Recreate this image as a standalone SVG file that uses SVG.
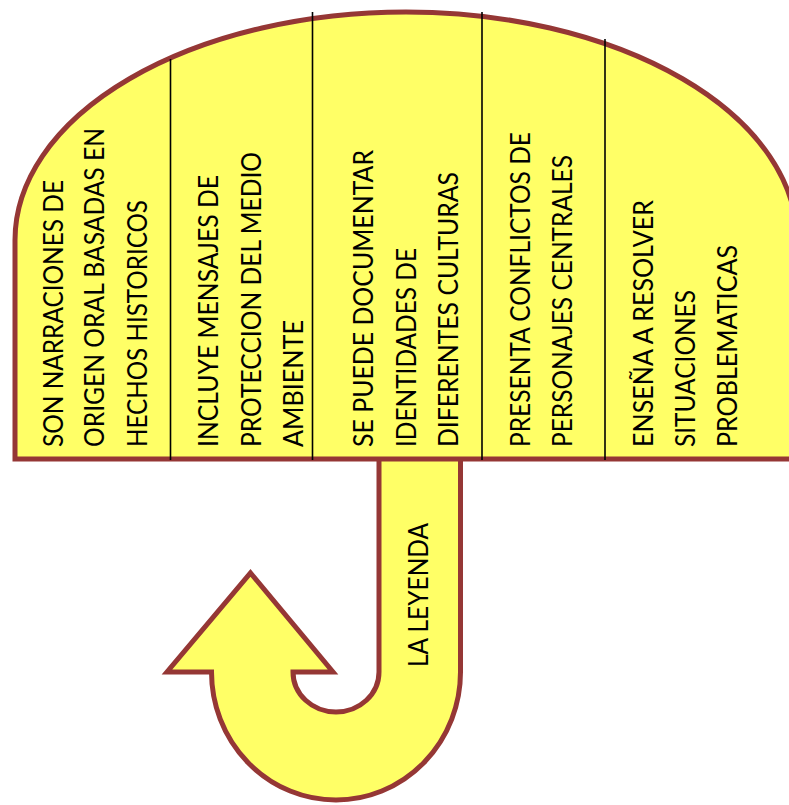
<svg xmlns="http://www.w3.org/2000/svg" width="789" height="805" viewBox="0 0 789 805">
<style>
.shape{fill:#FFFF66;stroke:#953735;stroke-width:5;stroke-linejoin:miter}
.div{stroke:#000;stroke-width:1.6;fill:none}
.t{font-family:Lato,"Liberation Sans",sans-serif;font-size:26px;fill:#000}
</style>
<rect width="789" height="805" fill="#fff"/>
<g id="handle">
<path class="shape" d="M379,461 L379,672 A43,40 0 0 1 293,672 L333,672 L250.5,573 L167,672 L211.5,672 A124.5,128 0 0 0 460.5,672 L460.5,461"/>
<text class="t" transform="translate(428,667) rotate(-90)" textLength="144" lengthAdjust="spacingAndGlyphs">LA LEYENDA</text>
</g>
<g id="canopy">
<path class="shape" d="M15,459 L15,240 A391,228 0 0 1 797,240 L797,459 Z"/>
</g>
<g id="connectors">
<line class="div" x1="170.5" y1="59" x2="170.5" y2="460"/>
<line class="div" x1="312.5" y1="12" x2="312.5" y2="460"/>
<line class="div" x1="482" y1="12" x2="482" y2="460"/>
<line class="div" x1="605" y1="39" x2="605" y2="460"/>
</g>
<g id="col1">
<text class="t" transform="translate(63,447) rotate(-90)" textLength="267" lengthAdjust="spacingAndGlyphs">SON NARRACIONES DE</text>
<text class="t" transform="translate(104,447) rotate(-90)" textLength="319" lengthAdjust="spacingAndGlyphs">ORIGEN ORAL BASADAS EN</text>
<text class="t" transform="translate(147,447) rotate(-90)" textLength="247" lengthAdjust="spacingAndGlyphs">HECHOS HISTORICOS</text>
</g>
<g id="col2">
<text class="t" transform="translate(218,447) rotate(-90)" textLength="272" lengthAdjust="spacingAndGlyphs">INCLUYE MENSAJES DE</text>
<text class="t" transform="translate(261,447) rotate(-90)" textLength="295" lengthAdjust="spacingAndGlyphs">PROTECCION DEL MEDIO</text>
<text class="t" transform="translate(303,447) rotate(-90)" textLength="127" lengthAdjust="spacingAndGlyphs">AMBIENTE</text>
</g>
<g id="col3">
<text class="t" transform="translate(373,447) rotate(-90)" textLength="297" lengthAdjust="spacingAndGlyphs">SE PUEDE DOCUMENTAR</text>
<text class="t" transform="translate(416,447) rotate(-90)" textLength="199" lengthAdjust="spacingAndGlyphs">IDENTIDADES DE</text>
<text class="t" transform="translate(458,447) rotate(-90)" textLength="275" lengthAdjust="spacingAndGlyphs">DIFERENTES CULTURAS</text>
</g>
<g id="col4">
<text class="t" transform="translate(530,447) rotate(-90)" textLength="315" lengthAdjust="spacingAndGlyphs">PRESENTA CONFLICTOS DE</text>
<text class="t" transform="translate(572,447) rotate(-90)" textLength="292" lengthAdjust="spacingAndGlyphs">PERSONAJES CENTRALES</text>
</g>
<g id="col5">
<text class="t" transform="translate(653,447) rotate(-90)" textLength="247" lengthAdjust="spacingAndGlyphs">ENSEÑA A RESOLVER</text>
<text class="t" transform="translate(695,447) rotate(-90)" textLength="157" lengthAdjust="spacingAndGlyphs">SITUACIONES</text>
<text class="t" transform="translate(737,447) rotate(-90)" textLength="202" lengthAdjust="spacingAndGlyphs">PROBLEMATICAS</text>
</g>
</svg>
